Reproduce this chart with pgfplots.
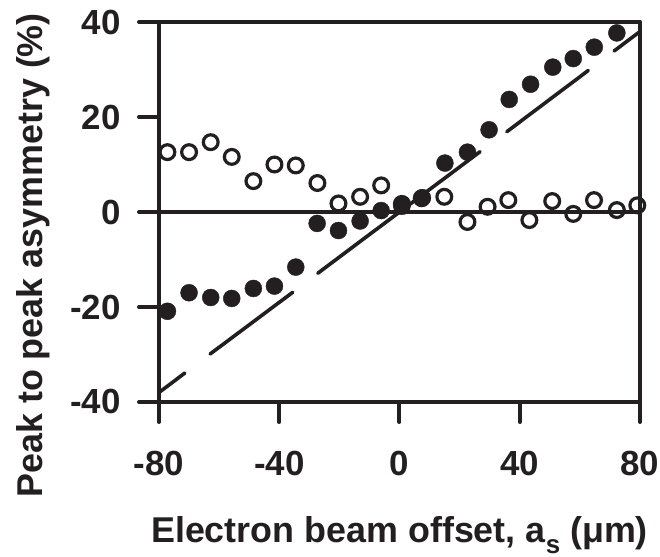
\documentclass[border=0pt]{standalone}
\usepackage{fontspec}
\setmainfont{Liberation Sans}
\usepackage{pgfplots}
\pgfplotsset{compat=1.18}
\definecolor{ink}{HTML}{231F20}

% asymmetry vs offset, filled = measured, open = other polarisation
\pgfplotstableread{
x y
-77.2 -20.9
-70.0 -17.0
-62.8 -18.0
-55.8 -18.2
-48.6 -16.1
-41.6 -15.6
-34.5 -11.6
-27.4 -2.4
-20.3 -3.9
-13.1 -1.9
-6.1 0.3
0.8 1.2
7.6 3.0
15.1 10.3
22.6 12.6
29.8 17.3
36.5 23.7
43.6 26.9
51.0 30.5
57.8 32.3
64.8 34.7
72.3 37.7
}\filled
\pgfplotstableread{
x y
-77.2 12.6
-70.0 12.6
-62.8 14.7
-55.8 11.6
-48.6 6.5
-41.6 10.0
-34.5 9.8
-27.3 6.1
-20.3 1.8
-13.1 3.2
-6.1 5.6
0.8 1.7
7.4 2.9
14.9 3.2
22.6 -2.1
29.3 1.1
36.2 2.5
43.2 -1.7
50.8 2.3
57.8 -0.4
64.7 2.5
72.3 0.4
79.1 1.4
}\hollow

\begin{document}
\begin{tikzpicture}
\begin{axis}[
    scale only axis,
    width=481bp, height=380bp,
    xmin=-80, xmax=80, ymin=-40, ymax=40,
    clip=false,
    axis line style={ink, line width=4.5bp, line join=round},
    tick pos=left,
    tick align=outside,
    major tick length=20bp,
    every tick/.style={ink, line width=4bp, line cap=round},
    xtick={-80,-40,0,40,80},
    xticklabels={-80,-40,0,40,80},
    ytick={-40,-20,0,20,40},
    yticklabels={-40,-20,0,20,40},
    ticklabel style={font=\fontsize{35}{35}\selectfont\bfseries, text=ink},
    xticklabel style={anchor=north, yshift=-26bp},
    yticklabel style={anchor=east, xshift=-15bp},
    xlabel={Electron beam offset, a\raisebox{-0.28em}{\fontsize{26}{26}\selectfont s} (μm)},
    ylabel={Peak to peak asymmetry (\%)},
    every axis x label/.style={at={(axis description cs:0.5,-0.371)}, anchor=base,
        font=\fontsize{36}{36}\selectfont\bfseries, text=ink},
    every axis y label/.style={at={(axis description cs:-0.2432,0.386)}, rotate=90, anchor=base,
        font=\fontsize{36}{36}\selectfont\bfseries, text=ink},
]
\addplot[ink, line width=4bp, forget plot] coordinates {(-80,0) (80,0)};
\addplot[only marks, mark=*, mark size=8.5bp, ink, mark options={fill=ink, draw=none}] table[x=x,y=y] {\filled};
\addplot[only marks, mark=o, mark size=7.4bp, ink, mark options={fill=white, draw=ink, line width=3.2bp}] table[x=x,y=y] {\hollow};
% dashed reference line drawn as its separate dashes
\addplot[ink, line width=3.6bp, line cap=round] coordinates {(-80,-38.0) (-71.4,-33.9)};
\addplot[ink, line width=3.6bp, line cap=round] coordinates {(-63.0,-29.9) (-35.5,-16.9)};
\addplot[ink, line width=3.6bp, line cap=round] coordinates {(-27.2,-12.9) (26.8,12.7)};
\addplot[ink, line width=3.6bp, line cap=round] coordinates {(35.7,16.9) (62.8,29.8)};
\addplot[ink, line width=3.6bp, line cap=round] coordinates {(71.4,33.9) (80,38.0)};
\coordinate (bl) at (rel axis cs:0,0);
\coordinate (tr) at (rel axis cs:1,1);
\end{axis}
\pgfresetboundingbox
\path[use as bounding box] ([shift={(-159bp,-155bp)}]bl) rectangle ([shift={(20bp,22bp)}]tr);
\end{tikzpicture}
\end{document}
